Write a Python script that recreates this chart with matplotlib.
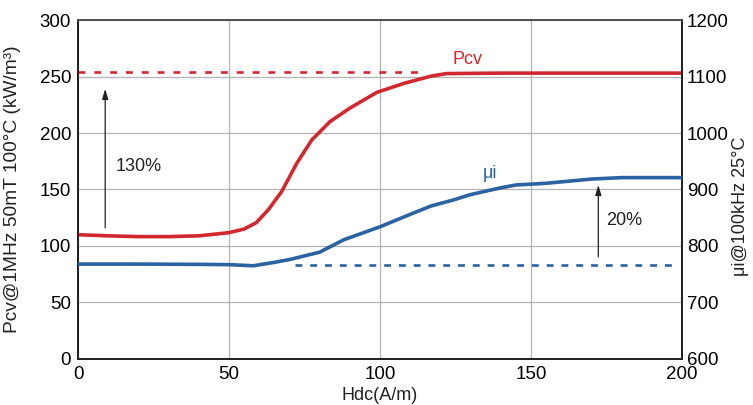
import matplotlib
matplotlib.use('Agg')
import matplotlib.pyplot as plt

plt.rcParams['font.family'] = ['Liberation Sans', 'DejaVu Sans']

# Pcv curve (left axis)
hdc_pcv = [0, 10, 20, 30, 40, 50, 55, 59, 63, 67.4, 72.4, 77.4, 83.4, 90, 99, 108, 117, 122, 140, 160, 200]
pcv = [110, 109, 108.3, 108.3, 109, 111.8, 115, 120.6, 132, 148, 173, 193.8, 210, 222, 236, 244, 250.4, 252.6, 253, 253, 253]

# mu_i curve (right axis)
hdc_mu = [0, 20, 40, 50, 58, 65, 70, 80, 88, 100, 110, 117, 124, 130, 140, 145, 155, 170, 180, 200]
mu = [768, 768, 767.5, 767, 765, 771, 776, 789, 811, 834, 856, 871, 881, 891, 903, 908, 911, 918.5, 921, 921]

pcv_ref = 253.7        # red dashed reference level
pcv_ref_x = [0, 114]
mu_ref = 765.5         # blue dashed reference level
mu_ref_x = [72, 198]

red = '#d0282e'
blue = '#2a62a2'

fig = plt.figure(figsize=(7.53, 4.05), dpi=100)
ax = fig.add_axes([0.1036, 0.1136, 0.8021, 0.837])
ax2 = ax.twinx()

ax.set_xlim(0, 200)
ax.set_ylim(0, 300)
ax2.set_ylim(600, 1200)
ax.set_xticks([0, 50, 100, 150, 200])
ax.set_yticks(range(0, 301, 50))
ax2.set_yticks(range(600, 1201, 100))

ax.grid(True, color='#b4b4b4', linewidth=0.9)
ax.set_axisbelow(True)

ax.tick_params(length=0, labelsize=13.5, pad=5)
ax2.tick_params(length=0, labelsize=13.5, pad=3.5)
for a in (ax, ax2):
	for s in a.spines.values():
		s.set_linewidth(1.3)
		s.set_color('#222222')
ax2.spines['top'].set_color('#555555')

# curves
ax.plot(hdc_pcv, pcv, color=red, lw=2.6, solid_capstyle='butt', zorder=3)
ax.plot(pcv_ref_x, [pcv_ref, pcv_ref], color=red, lw=1.9, dashes=(2.6, 3.4), zorder=3)
ax2.plot(hdc_mu, mu, color=blue, lw=2.6, solid_capstyle='butt', zorder=3)
ax2.plot(mu_ref_x, [mu_ref, mu_ref], color=blue, lw=1.9, dashes=(2.6, 3.0), zorder=3)

# arrows
arrow = dict(arrowstyle='-|>,head_length=0.6,head_width=0.18', color='#222222', lw=0.9, shrinkA=0, shrinkB=0)
ax.annotate('', xy=(9, 239), xytext=(9, 116), arrowprops=arrow)
ax2.annotate('', xy=(172.3, 908), xytext=(172.3, 781), arrowprops=arrow)

ax.text(12.3, 170, '130%', fontsize=13, va='center', ha='left', color='#222222')
ax2.text(175, 845, '20%', fontsize=13, va='center', ha='left', color='#222222')
ax.text(129, 265, 'Pcv', fontsize=13, va='center', ha='center', color=red)
ax2.text(136.5, 929, 'μi', fontsize=13, va='center', ha='center', color=blue)

ax.set_ylabel('Pcv@1MHz 50mT 100°C (kW/m³)', fontsize=13.8, color='#222222')
ax.yaxis.set_label_coords(-0.094, 0.5)
ax2.set_ylabel('μi@100kHz 25°C', fontsize=13, color='#222222', rotation=90)
ax2.yaxis.set_label_coords(1.082, 0.45)
ax.set_xlabel('Hdc(A/m)', fontsize=13, color='#222222')
ax.xaxis.set_label_coords(0.5, -0.083)

fig.savefig('out.png', dpi=100)
